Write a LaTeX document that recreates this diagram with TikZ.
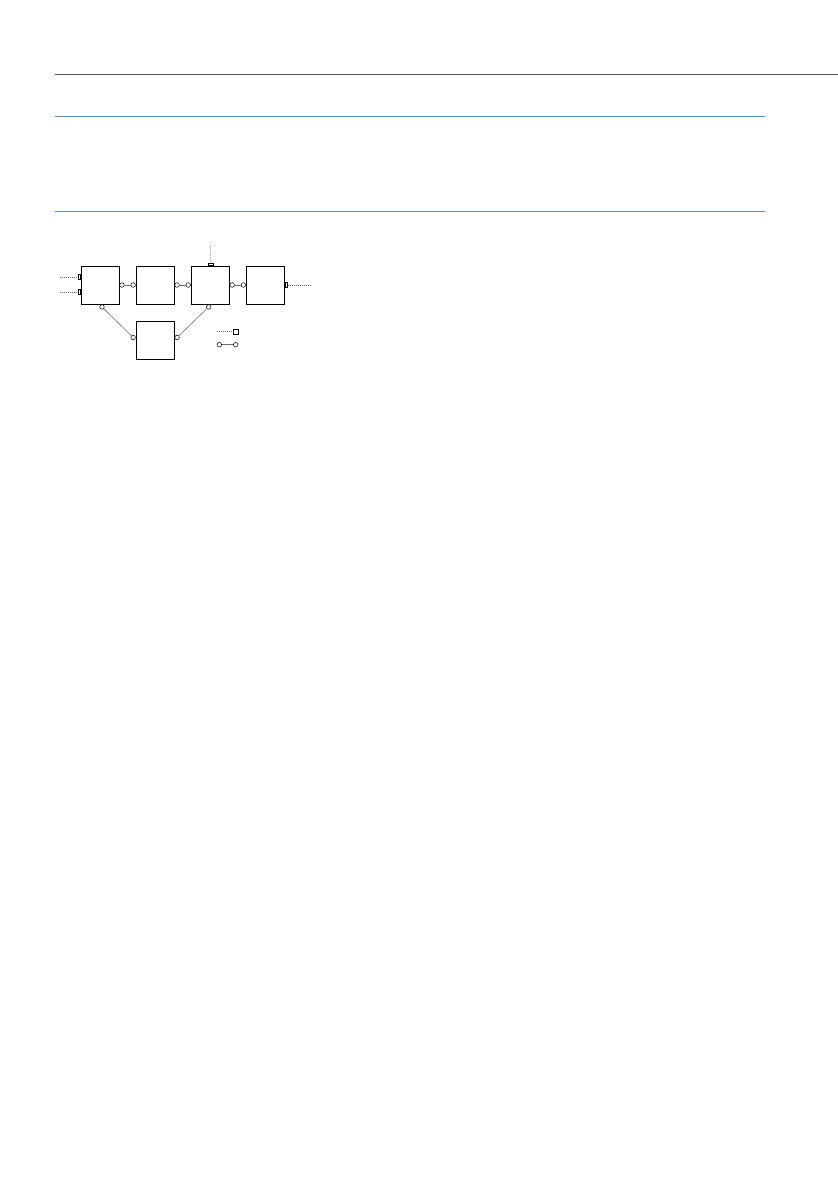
\documentclass[tikz,border=0pt]{standalone}
\usepackage{tikz}
\usetikzlibrary{positioning}
\definecolor{rulegray}{RGB}{85,85,85}
\definecolor{ruleblue}{RGB}{92,142,190}
\definecolor{linkgray}{RGB}{110,110,110}
\begin{document}
\begin{tikzpicture}[x=1pt,y=-1pt,
    block/.style={draw,line width=0.8pt,minimum size=38pt,inner sep=0pt},
    port/.style={draw,circle,line width=0.5pt,minimum size=4.6pt,inner sep=0pt,fill=white},
    plug/.style={draw,rectangle,line width=0.45pt,inner sep=0pt,fill=white},
    link/.style={linkgray,line width=0.6pt},
    feed/.style={black!60,line width=0.5pt,dash pattern=on 0.8pt off 1.2pt}]
    \useasboundingbox (0,0) rectangle (838,1192);
    % rules
    \draw[rulegray,line width=1pt](55,74) -- (838,74);
    \draw[ruleblue,line width=1pt](55,116) -- (765,116);
    \draw[ruleblue,line width=1pt](55,211) -- (765,211);
    % blocks
    \node[block] (A) at (100,285) {};
    \node[block,right=16.3pt of A] (B) {};
    \node[block,right=16.3pt of B] (C) {};
    \node[block,right=16.3pt of C] (D) {};
    \node[block,below=16.3pt of B] (E) {};
    % ports
    \node[port,anchor=west] (aR) at (A.east) {};
    \node[port,anchor=east] (bL) at (B.west) {};
    \node[port,anchor=west] (bR) at (B.east) {};
    \node[port,anchor=east] (cL) at (C.west) {};
    \node[port,anchor=west] (cR) at (C.east) {};
    \node[port,anchor=east] (dL) at (D.west) {};
    \node[port,anchor=north,xshift=2pt] (aB) at (A.south) {};
    \node[port,anchor=north,xshift=-1.5pt] (cB) at (C.south) {};
    \node[port,anchor=east,yshift=2.6pt] (eL) at (E.west) {};
    \node[port,anchor=west,yshift=2.6pt] (eR) at (E.east) {};
    \draw[link](aR) -- (bL);
    \draw[link](bR) -- (cL);
    \draw[link](cR) -- (dL);
    \draw[link](aB) -- (eL);
    \draw[link](cB) -- (eR);
    % plugs and feeds
    \node[plug,minimum width=2.4pt,minimum height=5pt,anchor=east,yshift=8pt] (aI) at (A.west) {};
    \node[plug,minimum width=2.4pt,minimum height=5pt,anchor=east,yshift=-7pt] (aJ) at (A.west) {};
    \node[plug,minimum width=5pt,minimum height=2.6pt,anchor=south,xshift=0.5pt] (cT) at (C.north) {};
    \node[plug,minimum width=2.4pt,minimum height=5pt,anchor=west] (dO) at (D.east) {};
    \coordinate (inI) at (60,277);
    \coordinate (inJ) at (60,292);
    \coordinate (inT) at (210.6,245);
    \coordinate (outO) at (311,285);
    \draw[feed](inI) -- (aI);
    \draw[feed](inJ) -- (aJ);
    \draw[feed](inT) -- (cT);
    \draw[feed](dO) -- (outO);
    % legend
    \node[plug,minimum size=5pt] (lgS) at (235.7,331.7) {};
    \coordinate (lgF) at (216.7,331.7);
    \draw[feed](lgF) -- (lgS);
    \node[port] (lgA) at (219.3,344.7) {};
    \node[port] (lgB) at (235.7,344.7) {};
    \draw[link](lgA) -- (lgB);
\end{tikzpicture}
\end{document}
